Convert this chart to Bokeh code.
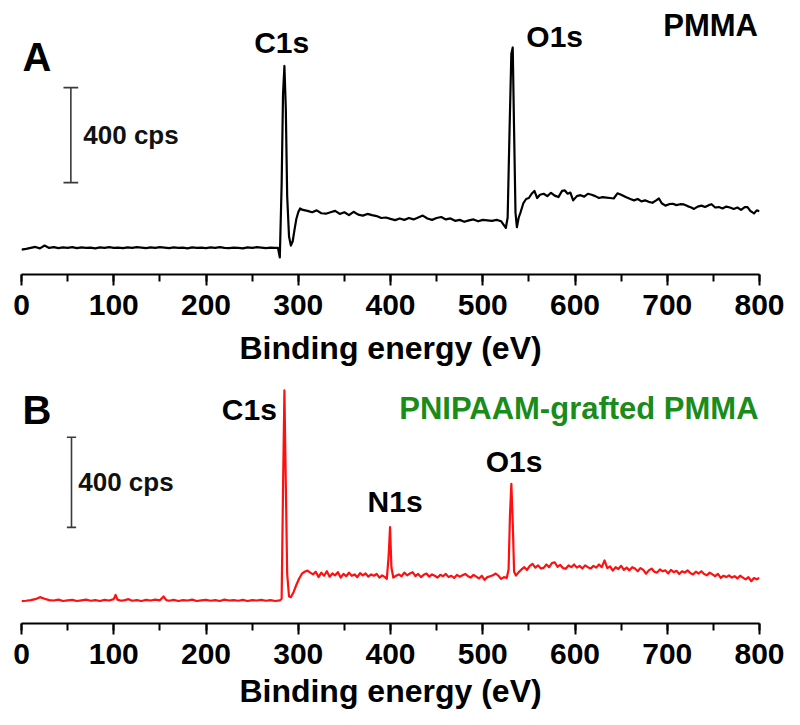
from bokeh.plotting import figure
from bokeh.models import Range1d, Label, SingleIntervalTicker, ColumnDataSource
from bokeh.layouts import column
from bokeh.embed import file_html
from bokeh.resources import INLINE

# ---------------- Panel A : PMMA (black spectrum), counts in cps ----------------
a_base_e = [0, 5, 10, 15, 20, 25, 30, 35, 40, 45, 50, 55, 60, 65, 70, 75, 80, 85, 90, 95,
            100, 105, 110, 115, 120, 125, 130, 135, 140, 145, 150, 155, 160, 165, 170, 175,
            180, 185, 190, 195, 200, 205, 210, 215, 220, 225, 230, 235, 240, 245, 250, 255,
            260, 265, 270, 275]
a_base_c = [105, 108, 112, 116, 110, 122, 112, 115, 111, 114,
            112, 115, 111, 114, 112, 113, 110, 114, 112, 115,
            112, 113, 111, 114, 112, 115, 113, 111, 114, 112,
            115, 113, 111, 114, 112, 113, 110, 114, 112, 113,
            111, 114, 112, 115, 112, 111, 113, 112, 110, 114,
            112, 115, 113, 111, 113, 112]
a_c1s_e = [278, 280, 282, 283.5, 285, 286.5, 288, 290, 292, 294, 296, 298, 300, 302]
a_c1s_c = [112, 72, 380, 760, 878, 700, 330, 160, 122, 140, 190, 235, 262, 278]
a_mid_e = [305, 310, 315, 320, 325, 330, 335, 340, 345, 350, 355, 360, 365, 370, 375, 380,
           385, 390, 395, 400, 405, 410, 415, 420, 425, 430, 435, 440, 445, 450, 455, 460,
           465, 470, 475, 480, 485, 490, 495, 500, 505, 510, 515, 520]
a_mid_c = [272, 268, 262, 270, 258, 256, 262, 268, 255, 262,
           250, 264, 252, 248, 255, 250, 246, 238, 240, 234,
           229, 236, 230, 238, 232, 240, 248, 236, 230, 238,
           242, 232, 236, 226, 230, 222, 228, 232, 224, 230,
           228, 226, 230, 224]
a_o1s_e = [525, 527, 529, 531, 532.5, 534, 535.5, 537, 539, 541, 544, 547, 550, 553, 556]
a_o1s_c = [196, 240, 600, 930, 956, 600, 260, 199, 240, 262, 300, 318, 322, 340, 352]
a_tail_e = [559, 562, 566, 570, 574, 578, 582, 586, 589, 592, 595, 598, 602, 606, 610, 614,
            618, 622, 626, 630, 634, 638, 642, 646, 650, 655, 660, 664, 668, 672, 676, 680,
            684, 688, 691, 694, 698, 702, 706, 710, 714, 718, 722, 726, 729, 733, 737, 741,
            745, 748, 752, 756, 760, 764, 768, 772, 776, 780, 784, 787, 790, 794, 797, 800]
a_tail_c = [322, 336, 340, 330, 344, 332, 326, 352, 354, 340,
            345, 312, 330, 334, 328, 340, 336, 330, 322, 326,
            324, 322, 320, 342, 336, 326, 318, 312, 318, 308,
            312, 306, 302, 312, 320, 300, 290, 296, 298, 292,
            296, 295, 288, 282, 276, 286, 290, 284, 292, 296,
            282, 284, 278, 286, 282, 276, 282, 272, 284, 284,
            268, 257, 270, 266]

# ---------------- Panel B : PNIPAAM-grafted PMMA (red spectrum) ----------------
b_base_e = [0, 5, 10, 15, 20, 25, 30, 35, 40, 45, 50, 55, 60, 65, 70, 75, 80, 85, 90, 95,
            100, 102, 104, 108, 112, 116, 120, 125, 130, 135, 140, 145, 150, 154, 157, 160,
            165, 170, 175, 180, 185, 190, 195, 200, 205, 210, 215, 220, 225, 230, 235, 240,
            245, 250, 255, 260, 265, 270, 275, 280]
b_base_c = [99, 101, 104, 108, 117, 110, 104, 102, 106, 100,
            103, 105, 100, 103, 106, 101, 104, 100, 105, 102,
            108, 127, 106, 101, 104, 108, 101, 104, 100, 105,
            102, 106, 103, 120, 104, 101, 105, 100, 104, 102,
            106, 100, 103, 105, 101, 104, 100, 106, 102, 104,
            101, 105, 100, 104, 102, 105, 101, 104, 100, 103]
b_c1s_e = [282, 283.5, 285, 286.5, 288, 290, 292, 295, 298, 301, 304, 307, 310]
b_c1s_c = [110, 600, 1035, 620, 220, 120, 117, 140, 172, 200, 221, 230, 235]
b_mid_e = [313, 316, 319, 322, 325, 328, 331, 334, 337, 340, 343, 346, 349, 352, 355, 358,
           361, 364, 367, 370, 373, 376, 379, 382, 385, 388, 391, 394, 396]
b_mid_c = [226, 218, 230, 206, 226, 212, 232, 208, 222, 214,
           228, 204, 220, 210, 226, 212, 218, 206, 224, 214,
           222, 208, 218, 212, 220, 204, 214, 206, 198]
b_n1s_e = [398, 399.5, 401, 403]
b_n1s_c = [300, 428, 250, 204]
b_mid2_e = [406, 409, 412, 415, 418, 421, 424, 427, 430, 433, 436, 439, 442, 445, 448, 451,
            454, 457, 460, 463, 466, 469, 472, 475, 478, 481, 484, 487, 490, 493, 496, 499,
            502, 505, 508, 511, 514, 517, 520, 523, 526]
b_mid2_c = [212, 218, 210, 226, 214, 222, 228, 210, 220, 206,
            216, 222, 208, 218, 212, 204, 216, 210, 220, 206,
            212, 202, 216, 208, 214, 220, 210, 204, 216, 208,
            200, 212, 194, 206, 210, 214, 222, 212, 198, 206,
            202]
b_o1s_e = [528, 529.5, 531, 532.5, 534, 536]
b_o1s_c = [240, 480, 620, 450, 230, 213]
b_tail_e = [539, 542, 545, 548, 551, 554, 557, 560, 563, 566, 569, 572, 575, 578, 581, 584,
            587, 590, 593, 596, 599, 602, 605, 608, 611, 614, 617, 620, 623, 626, 629, 632,
            635, 638, 641, 644, 647, 650, 653, 656, 659, 662, 665, 668, 671, 674, 677, 680,
            683, 686, 689, 692, 695, 698, 701, 704, 707, 710, 713, 716, 719, 722, 725, 728,
            731, 734, 737, 740, 743, 746, 749, 752, 755, 758, 761, 764, 767, 770, 773, 776,
            779, 782, 785, 788, 791, 794, 797, 800]
b_tail_c = [228, 240, 250, 238, 256, 265, 248, 258, 244, 247,
            262, 250, 268, 272, 252, 260, 246, 243, 258, 250,
            262, 248, 256, 244, 258, 250, 244, 256, 248, 262,
            250, 280, 246, 254, 235, 250, 242, 256, 238, 248,
            236, 250, 244, 232, 246, 238, 221, 236, 244, 230,
            226, 240, 232, 236, 222, 238, 228, 234, 220, 232,
            226, 236, 224, 218, 230, 222, 232, 220, 214, 226,
            218, 210, 220, 203, 212, 206, 214, 204, 210, 200,
            212, 204, 196, 206, 188, 202, 196, 203]

energy_A = a_base_e + a_c1s_e + a_mid_e + a_o1s_e + a_tail_e
counts_A = a_base_c + a_c1s_c + a_mid_c + a_o1s_c + a_tail_c
energy_B = b_base_e + b_c1s_e + b_mid_e + b_n1s_e + b_mid2_e + b_o1s_e + b_tail_e
counts_B = b_base_c + b_c1s_c + b_mid_c + b_n1s_c + b_mid2_c + b_o1s_c + b_tail_c
assert len(energy_A) == len(counts_A) and len(energy_B) == len(counts_B)

# scale bars: 400 cps
scale_span = 400
bar_A_energy, bar_A_bottom = 53.5, 387
bar_B_energy, bar_B_bottom = 54.2, 427

FONT = "Liberation Sans"


def make_panel(energy, counts, color, y_end, height, top_border, bottom_border,
               title_standoff):
    p = figure(width=792, height=height, output_backend="svg", toolbar_location=None,
               x_range=Range1d(0, 800), y_range=Range1d(0, y_end),
               y_axis_location=None, min_border_left=21, min_border_right=33,
               min_border_top=top_border, min_border_bottom=bottom_border)
    p.outline_line_color = None
    p.xgrid.visible = False
    p.ygrid.visible = False
    p.background_fill_color = "white"
    p.border_fill_color = "white"
    src = ColumnDataSource(dict(e=energy, c=counts))
    p.line("e", "c", source=src, line_color=color, line_width=2.2, line_join="round")

    ax = p.xaxis[0]
    ax.ticker = SingleIntervalTicker(interval=100, num_minor_ticks=2)
    ax.axis_label = "Binding energy (eV)"
    ax.axis_label_text_font = FONT
    ax.axis_label_text_font_style = "bold"
    ax.axis_label_text_font_size = "32px"
    ax.axis_label_text_color = "black"
    ax.axis_label_standoff = title_standoff
    ax.major_label_text_font = FONT
    ax.major_label_text_font_style = "bold"
    ax.major_label_text_font_size = "30px"
    ax.major_label_text_color = "black"
    ax.major_label_standoff = 9
    ax.axis_line_color = "black"
    ax.axis_line_width = 2
    ax.major_tick_line_color = "black"
    ax.major_tick_line_width = 2
    ax.major_tick_in = 0
    ax.major_tick_out = 11
    ax.minor_tick_line_color = "black"
    ax.minor_tick_line_width = 2
    ax.minor_tick_in = 0
    ax.minor_tick_out = 7
    return p


def add_scale_bar(p, e, bottom, cap_half, label_e):
    top = bottom + scale_span
    p.segment(x0=[e, e - cap_half, e - cap_half], y0=[bottom, bottom, top],
              x1=[e, e + cap_half, e + cap_half], y1=[top, bottom, top],
              line_color="#3a3a3a", line_width=1.6)
    p.add_layout(Label(x=label_e, y=bottom + scale_span / 2, text="400 cps",
                       text_font=FONT, text_font_style="bold", text_font_size="26px",
                       text_color="#111111", text_align="left", text_baseline="middle"))


def add_text(p, x, y, text, size, align="center", color="black"):
    p.add_layout(Label(x=x, y=y, text=text, text_font=FONT, text_font_style="bold",
                       text_font_size=size, text_color=color, text_align=align,
                       text_baseline="middle"))


pA = make_panel(energy_A, counts_A, "black", 1120, 380, 8, 106, 12)
add_scale_bar(pA, bar_A_energy, bar_A_bottom, 8, 67)
add_text(pA, 1, 914, "A", "40px", align="left")
add_text(pA, 282, 977, "C1s", "30px")
add_text(pA, 578, 1002, "O1s", "30px")
add_text(pA, 747, 1048, "PMMA", "31px")

pB = make_panel(energy_B, counts_B, "#ff1010", 1079, 341, 0, 98, 6)
add_scale_bar(pB, bar_B_energy, bar_B_bottom, 5, 61.5)
add_text(pB, 1, 946, "B", "40px", align="left")
add_text(pB, 247, 950, "C1s", "30px")
add_text(pB, 405, 542, "N1s", "30px")
add_text(pB, 534, 719, "O1s", "30px")
add_text(pB, 799, 955, "PNIPAAM-grafted PMMA", "31px", align="right", color="#1a8c1a")

layout = column(pA, pB)
open("out.html", "w").write(file_html(layout, INLINE))
